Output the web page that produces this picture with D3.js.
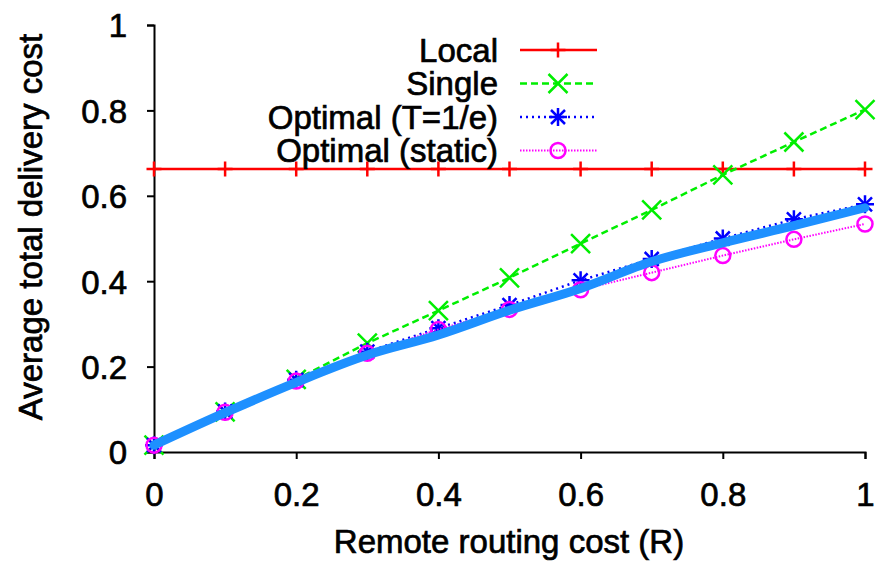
<!DOCTYPE html>
<html><head><meta charset="utf-8">
<script src="https://cdn.jsdelivr.net/npm/d3@7"></script>
<style>body{margin:0;background:#fff}svg{display:block;font-family:"Liberation Sans",Arial,sans-serif}
text{stroke:#000;stroke-width:0.7px;paint-order:fill}</style>
</head><body>
<svg id="c" width="876" height="562"></svg>
<script>
const xs = [0, 0.1, 0.2, 0.3, 0.4, 0.5, 0.6, 0.7, 0.8, 0.9, 1];
const localCost = [0.663, 0.663, 0.663, 0.663, 0.663, 0.663, 0.663, 0.663, 0.663, 0.663, 0.663];
const singleCost = [0.016, 0.094, 0.17, 0.255, 0.331, 0.408, 0.488, 0.567, 0.649, 0.726, 0.802];
const optimalT = [0.016, 0.095, 0.169, 0.235, 0.29, 0.344, 0.402, 0.452, 0.5, 0.545, 0.58];
const optimalStatic = [0.016, 0.093, 0.166, 0.231, 0.287, 0.334, 0.38, 0.42, 0.46, 0.498, 0.534];
const fitCost = [0.016, 0.092, 0.163, 0.227, 0.274, 0.332, 0.383, 0.446, 0.49, 0.53, 0.572];
const xTicks = [0, 0.2, 0.4, 0.6, 0.8, 1];
const yTicks = [0, 0.2, 0.4, 0.6, 0.8, 1];
const seriesNames = ["Local", "Single", "Optimal (T=1/e)", "Optimal (static)"];

const svg = d3.select("#c");
const x = d3.scaleLinear().domain([0, 1]).range([154, 865]);
const y = d3.scaleLinear().domain([0, 1]).range([452, 25]);

// axes
const gx = svg.append("g").attr("transform", "translate(0,452)")
  .call(d3.axisBottom(x).tickValues(xTicks).tickFormat(d3.format("")).tickSize(7).tickPadding(24));
const gy = svg.append("g").attr("transform", "translate(154,0)")
  .call(d3.axisLeft(y).tickValues(yTicks).tickFormat(d3.format("")).tickSize(7).tickPadding(20));
[gx, gy].forEach(g => {
  g.select(".domain").attr("stroke", "#000").attr("stroke-width", 2);
  g.selectAll(".tick line").attr("stroke", "#000").attr("stroke-width", 2);
  g.selectAll(".tick text").attr("fill", "#000").style("font-size", "33px").style("font-family", "'Liberation Sans',Arial,sans-serif");
});
gy.selectAll(".tick text").attr("dy", "0.36em");
gx.selectAll(".tick text").attr("dy", "0.71em");

svg.append("text").attr("x", 509).attr("y", 553).attr("text-anchor", "middle")
  .style("font-size", "33px").text("Remote routing cost (R)");
svg.append("text").attr("transform", "translate(42,227) rotate(-90)").attr("text-anchor", "middle")
  .style("font-size", "33px").text("Average total delivery cost");

const series = [
  {name: seriesNames[0], vals: localCost, color: "#ff0000", dash: null, w: 2.5, marker: "plus"},
  {name: seriesNames[1], vals: singleCost, color: "#00ee00", dash: "7,4", w: 2.5, marker: "cross"},
  {name: seriesNames[2], vals: optimalT, color: "#0000ff", dash: "2,4", w: 2.5, marker: "star"},
  {name: seriesNames[3], vals: optimalStatic, color: "#ff00ff", dash: "1.5,1.5", w: 2, marker: "circle"}
];

function drawMarker(g, type, cx, cy, color) {
  const s = type === "star" ? 9 : 7.5;
  if (type === "plus" || type === "star") {
    g.append("path").attr("d", `M${cx - s},${cy}H${cx + s}M${cx},${cy - s}V${cy + s}`)
      .attr("stroke", color).attr("stroke-width", 2.5).attr("fill", "none");
  }
  if (type === "cross" || type === "star") {
    const k = type === "star" ? 7 : 9.5;
    g.append("path").attr("d", `M${cx - k},${cy - k}L${cx + k},${cy + k}M${cx - k},${cy + k}L${cx + k},${cy - k}`)
      .attr("stroke", color).attr("stroke-width", 2.5).attr("fill", "none");
  }
  if (type === "circle") {
    g.append("circle").attr("cx", cx).attr("cy", cy).attr("r", 7.5)
      .attr("stroke", color).attr("stroke-width", 2.5).attr("fill", "none");
  }
}

const line = d3.line().x((d, i) => x(xs[i])).y(d => y(d));
series.forEach(s => {
  const g = svg.append("g");
  g.append("path").datum(s.vals).attr("d", line).attr("fill", "none")
    .attr("stroke", s.color).attr("stroke-width", s.w).attr("stroke-dasharray", s.dash);
  s.vals.forEach((v, i) => drawMarker(g, s.marker, x(xs[i]), y(v), s.color));
});

// thick fitted curve
svg.append("path").datum(fitCost)
  .attr("d", d3.line().x((d, i) => x(xs[i])).y(d => y(d)).curve(d3.curveMonotoneX))
  .attr("fill", "none").attr("stroke", "#1e90ff").attr("stroke-width", 9).attr("stroke-linecap", "round");

// legend
const leg = svg.append("g");
series.forEach((s, i) => {
  const ly = 50 + i * 33.5;
  leg.append("text").attr("x", 498).attr("y", ly).attr("dy", "0.36em").attr("text-anchor", "end")
    .style("font-size", "33px").text(s.name);
  leg.append("line").attr("x1", 520).attr("x2", 597).attr("y1", ly).attr("y2", ly)
    .attr("stroke", s.color).attr("stroke-width", s.w).attr("stroke-dasharray", s.dash);
  drawMarker(leg, s.marker, 558, ly, s.color);
});
</script>
</body></html>
